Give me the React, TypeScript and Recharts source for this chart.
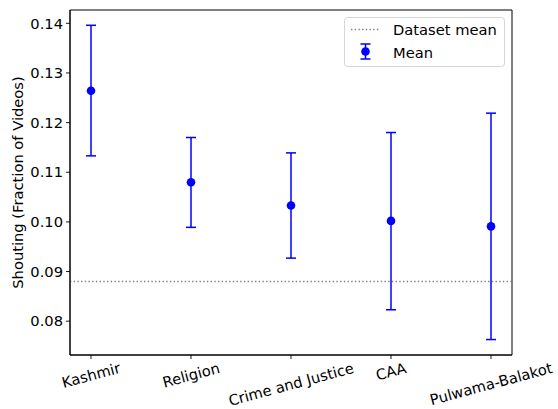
import React from 'react';
import { ComposedChart, Scatter, ErrorBar, XAxis, YAxis, ReferenceLine, ReferenceArea, Legend } from 'recharts';

const categories = ['Kashmir', 'Religion', 'Crime and Justice', 'CAA', 'Pulwama-Balakot'];
const means = [0.1264, 0.1080, 0.1033, 0.1002, 0.0991];
const lowers = [0.1133, 0.0989, 0.0927, 0.0823, 0.0763];
const uppers = [0.1396, 0.1170, 0.1139, 0.1180, 0.1219];
const datasetMean = 0.0880;
const yTicks = [0.08, 0.09, 0.10, 0.11, 0.12, 0.13, 0.14];

const FONT = 'DejaVu Sans';
const FS = 14.7;
const BLUE = '#0000ff';
const X_DOMAIN: [number, number] = [-0.21, 4.21];
const Y_DOMAIN: [number, number] = [0.07319, 0.14268];

const data = categories.map((name, i) => ({
    x: i,
    name,
    mean: means[i],
    err: [means[i] - lowers[i], uppers[i] - means[i]],
}));

let ctx: CanvasRenderingContext2D | null = null;
const measure = (text: string) => {
    if (!ctx) ctx = document.createElement('canvas').getContext('2d');
    if (!ctx) return text.length * FS * 0.6;
    ctx.font = `${FS}px "${FONT}"`;
    return ctx.measureText(text).width;
};

// matplotlib style: rotate 15deg, then centre the rotated box under the tick
const RotatedTick = (props: any) => {
    const { x, y, payload } = props;
    const label = categories[payload.value] ?? '';
    const w = measure(label);
    const h = FS * 0.95;
    const a = (15 * Math.PI) / 180;
    const boxH = w * Math.sin(a) + h * Math.cos(a);
    const cy = y - 0.5 + boxH / 2;
    return (
        <text
            x={x}
            y={cy}
            textAnchor="middle"
            dominantBaseline="central"
            transform={`rotate(-15, ${x}, ${cy})`}
            fontFamily={FONT}
            fontSize={FS}
            fill="#000"
        >
            {label}
        </text>
    );
};

const Dot = (props: any) => <circle cx={props.cx} cy={props.cy} r={4.3} fill={BLUE} />;

const LegendBox = () => (
    <svg width={161} height={50} style={{ display: 'block', overflow: 'visible' }}>
        <rect x={0.5} y={0.5} width={160} height={49} rx={3} fill="#fff" fillOpacity={0.8} stroke="#d6d6d6" />
        <line x1={7} x2={36} y1={12.5} y2={12.5} stroke="#808080" strokeWidth={1.4} strokeDasharray="1.4 2.3" />
        <text x={49} y={12.5} dominantBaseline="central" fontFamily={FONT} fontSize={FS} fill="#000">
            Dataset mean
        </text>
        <line x1={21.5} x2={21.5} y1={27} y2={42} stroke={BLUE} strokeWidth={1.5} />
        <line x1={16.5} x2={26.5} y1={27} y2={27} stroke={BLUE} strokeWidth={1.5} />
        <line x1={16.5} x2={26.5} y1={42} y2={42} stroke={BLUE} strokeWidth={1.5} />
        <circle cx={21.5} cy={34.5} r={4.3} fill={BLUE} />
        <text x={49} y={35} dominantBaseline="central" fontFamily={FONT} fontSize={FS} fill="#000">
            Mean
        </text>
    </svg>
);

export default function App() {
    return (
        <div style={{ position: 'absolute', left: 0, top: 0, width: 558, height: 409, background: '#fff' }}>
            <ComposedChart width={558} height={409} margin={{ top: 10, right: 46, bottom: 0, left: 0 }}>
                <XAxis
                    type="number"
                    dataKey="x"
                    domain={X_DOMAIN}
                    ticks={[0, 1, 2, 3, 4]}
                    allowDataOverflow
                    height={54}
                    tickSize={4}
                    tickLine={{ stroke: '#000', strokeWidth: 0.9 }}
                    axisLine={{ stroke: '#000', strokeWidth: 1 }}
                    tick={<RotatedTick />}
                />
                <YAxis
                    type="number"
                    domain={Y_DOMAIN}
                    ticks={yTicks}
                    allowDataOverflow
                    width={70}
                    tickSize={4}
                    tickMargin={3}
                    tickFormatter={(v: number) => v.toFixed(2)}
                    tickLine={{ stroke: '#000', strokeWidth: 0.9 }}
                    axisLine={{ stroke: '#000', strokeWidth: 1 }}
                    tick={{ fill: '#000', fontFamily: FONT, fontSize: FS }}
                    label={{
                        value: 'Shouting (Fraction of Videos)',
                        angle: -90,
                        position: 'insideLeft',
                        offset: 0,
                        dx: 18,
                        style: { textAnchor: 'middle', fill: '#000', fontFamily: FONT, fontSize: FS },
                    }}
                />
                <ReferenceArea
                    x1={X_DOMAIN[0]}
                    x2={X_DOMAIN[1]}
                    y1={Y_DOMAIN[0]}
                    y2={Y_DOMAIN[1]}
                    fill="none"
                    stroke="#000"
                    strokeWidth={1}
                    ifOverflow="visible"
                />
                <ReferenceLine y={datasetMean} stroke="#808080" strokeWidth={1.4} strokeDasharray="1.4 2.3" />
                <Scatter data={data} dataKey="mean" shape={<Dot />} isAnimationActive={false}>
                    <ErrorBar dataKey="err" direction="y" width={5} stroke={BLUE} strokeWidth={1.5} />
                </Scatter>
                <Legend
                    layout="horizontal"
                    verticalAlign="middle"
                    align="center"
                    content={<LegendBox />}
                    wrapperStyle={{ position: 'absolute', left: 344, top: 17, width: 161, height: 50 }}
                />
            </ComposedChart>
        </div>
    );
}
